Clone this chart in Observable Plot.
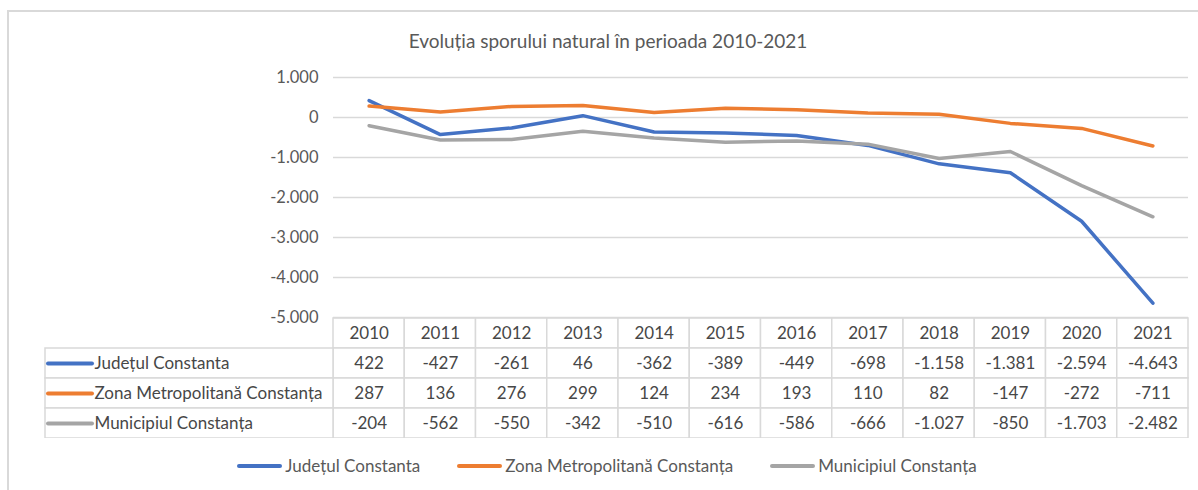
<!DOCTYPE html>
<html><head><meta charset="utf-8">
<script src="https://cdn.jsdelivr.net/npm/d3@7"></script>
<script src="https://cdn.jsdelivr.net/npm/@observablehq/plot@0.6"></script>
<style>
body{margin:0;background:#fff;font-family:Lato,sans-serif;width:1198px;height:490px;overflow:hidden;position:relative}
#frame{position:absolute;left:7px;top:10px;width:1210px;height:510px;border:2px solid #d9d9d9;box-sizing:border-box}
#title{position:absolute;top:29px;left:0;width:1216px;text-align:center;font-size:19px;color:#595959}
#chart{position:absolute;left:0;top:0}
#chart svg{overflow:visible}
#table{position:absolute;left:0;top:317px}
#legend{position:absolute;top:455px;left:0;width:1214px;display:flex;justify-content:center;gap:37px;font-size:17px;color:#595959}
#legend .it{display:flex;align-items:center}
#legend .sw{display:inline-block;width:45px;height:4px;border-radius:2px;margin-right:3px}
</style></head>
<body>
<div id="frame"></div>
<div id="title">Evoluția sporului natural în perioada 2010-2021</div>
<div id="table"></div>
<div id="chart"></div>
<div id="legend"></div>
<script>
const years = [2010, 2011, 2012, 2013, 2014, 2015, 2016, 2017, 2018, 2019, 2020, 2021];
const seriesNames = ["Județul Constanta", "Zona Metropolitană Constanța", "Municipiul Constanța"];
const judet = [422, -427, -261, 46, -362, -389, -449, -698, -1158, -1381, -2594, -4643];
const zona = [287, 136, 276, 299, 124, 234, 193, 110, 82, -147, -272, -711];
const municipiu = [-204, -562, -550, -342, -510, -616, -586, -666, -1027, -850, -1703, -2482];
const yTicks = [1000, 0, -1000, -2000, -3000, -4000, -5000];
const colors = ["#4472C4", "#ED7D31", "#A5A5A5"];

const fmt = d3.formatLocale({decimal: ",", thousands: ".", grouping: [3], currency: ["", ""], minus: "-"}).format(",d");
const seriesValues = [judet, zona, municipiu];
const data = seriesNames.flatMap((name, s) => years.map((year, i) => ({name, year, value: seriesValues[s][i]})));
const colorScale = {domain: seriesNames, range: colors};

const chart = Plot.plot({
  width: 1198, height: 318,
  marginTop: 77, marginBottom: 1, marginLeft: 333, marginRight: 10,
  style: {fontFamily: "Lato, sans-serif", fontSize: "16.5px", color: "#595959", background: "transparent", overflow: "visible"},
  x: {domain: [years[0] - 0.5, years[years.length - 1] + 0.5], axis: null},
  y: {domain: [-5000, 1000], axis: null},
  color: colorScale,
  marks: [
    Plot.ruleY(yTicks, {stroke: "#d9d9d9", strokeWidth: 1.5}),
    Plot.axisY({ticks: yTicks, tickFormat: fmt, tickSize: 0, tickPadding: 15, label: null}),
    Plot.line(data, {x: "year", y: "value", z: "name", stroke: "name", strokeWidth: 3.5, strokeLinecap: "round", strokeLinejoin: "round"})
  ]
});
document.getElementById("chart").append(chart);

// data table
const labelUnits = 288 / 71.25;
const labelLeft = years[0] - 0.5 - labelUnits;
const rows = ["", ...seriesNames];
const cells = [
  ...years.map(year => ({row: "", x1: year - 0.5, x2: year + 0.5, year, text: String(year)})),
  ...data.map(d => ({row: d.name, x1: d.year - 0.5, x2: d.year + 0.5, year: d.year, text: fmt(d.value)})),
  ...seriesNames.map(name => ({row: name, x1: labelLeft, x2: years[0] - 0.5, year: null, text: null}))
];
const table = Plot.plot({
  width: 1198, height: 121,
  marginTop: 1, marginBottom: 0, marginLeft: 45, marginRight: 10,
  style: {fontFamily: "Lato, sans-serif", fontSize: "17px", color: "#474747", background: "transparent"},
  x: {domain: [labelLeft, years[years.length - 1] + 0.5], axis: null},
  y: {domain: rows, axis: null, padding: 0},
  color: colorScale,
  marks: [
    Plot.barX(cells, {x1: "x1", x2: "x2", y: "row", fill: "white", stroke: "#d9d9d9", strokeWidth: 1.5}),
    Plot.text(cells.filter(c => c.text !== null), {x: "year", y: "row", text: "text", fill: "#474747"}),
    Plot.ruleY(seriesNames, {y: d => d, x1: () => labelLeft, x2: () => labelLeft, insetLeft: 3, insetRight: -47, stroke: d => d, strokeWidth: 4, strokeLinecap: "round"}),
    Plot.text(seriesNames, {x: () => labelLeft, y: d => d, text: d => d, textAnchor: "start", dx: 49, fill: "#474747"})
  ]
});
document.getElementById("table").append(table);

const legend = document.getElementById("legend");
seriesNames.forEach((name, i) => {
  const it = document.createElement("div"); it.className = "it";
  const sw = document.createElement("span"); sw.className = "sw"; sw.style.background = colors[i];
  const tx = document.createElement("span"); tx.textContent = name;
  it.append(sw, tx); legend.append(it);
});
</script>
</body></html>
